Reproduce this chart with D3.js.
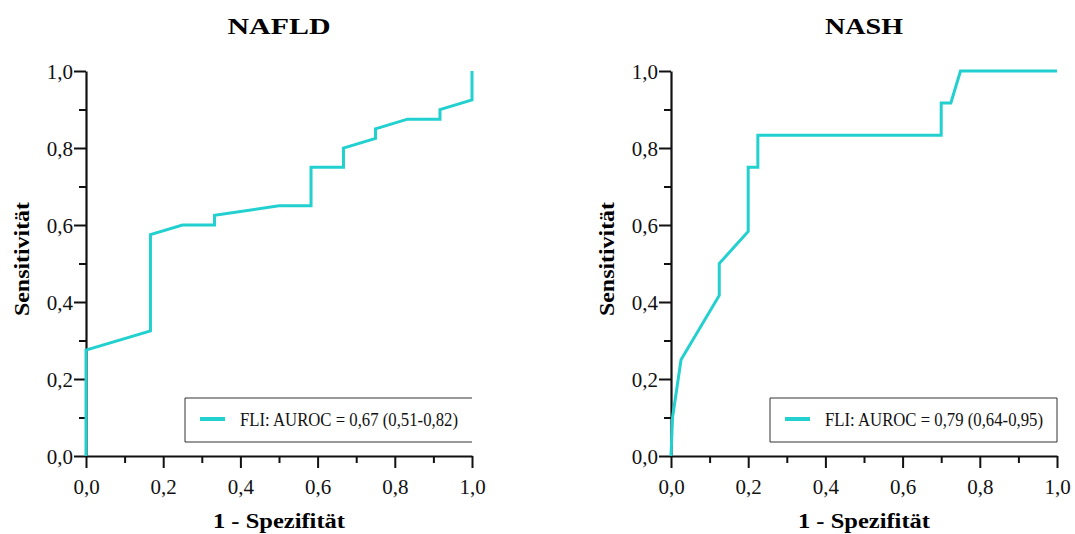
<!DOCTYPE html>
<html><head><meta charset="utf-8">
<script src="https://cdn.jsdelivr.net/npm/d3@7"></script>
<style>body{margin:0;background:#fff}svg{display:block}text{font-family:"Liberation Serif","Times New Roman",serif}</style>
</head><body><svg id="c" width="1075" height="534"></svg>
<script>
// ROC data: [1 - specificity, sensitivity]
const nafldFpr = [0, 0, 0.167, 0.167, 0.25, 0.333, 0.333, 0.5, 0.583, 0.583, 0.667, 0.667, 0.75, 0.75, 0.833, 0.917, 0.917, 1, 1];
const nafldTpr = [0, 0.275, 0.325, 0.575, 0.6, 0.6, 0.625, 0.65, 0.65, 0.75, 0.75, 0.8, 0.825, 0.85, 0.875, 0.875, 0.9, 0.925, 1];
const nashFpr = [0, 0.004, 0.026, 0.125, 0.125, 0.2, 0.2, 0.225, 0.225, 0.7, 0.7, 0.725, 0.75, 1];
const nashTpr = [0, 0.1, 0.25, 0.417, 0.5, 0.583, 0.75, 0.75, 0.833, 0.833, 0.917, 0.917, 1, 1];
const titles = ["NAFLD", "NASH"];
const legendLabels = ["FLI: AUROC = 0,67 (0,51-0,82)", "FLI: AUROC = 0,79 (0,64-0,95)"];
const majorTicks = [0, 0.2, 0.4, 0.6, 0.8, 1.0];
const minorTicks = [0.1, 0.3, 0.5, 0.7, 0.9];
const xTitle = "1 - Spezifität";
const yTitle = "Sensitivität";

const color = "#22d0cf";
const svg = d3.select("#c");
const fmt = d => d3.format(".1f")(d).replace(".", ",");

const panels = [
  {x0: 86, fpr: nafldFpr, tpr: nafldTpr, title: titles[0], leg: legendLabels[0], titleW: 103, box: {x: 185, w: 287, right: false}},
  {x0: 671, fpr: nashFpr, tpr: nashTpr, title: titles[1], leg: legendLabels[1], titleW: 78, box: {x: 770, w: 287, right: true}}
];
const W = 386, plotTop = 71, plotBottom = 456;

panels.forEach(p => {
  const x = d3.scaleLinear().domain([0, 1]).range([p.x0, p.x0 + W]);
  const y = d3.scaleLinear().domain([0, 1]).range([plotBottom, plotTop]);
  const g = svg.append("g");

  g.append("text").attr("x", p.x0 + W / 2).attr("y", 34).attr("text-anchor", "middle")
    .attr("font-size", 24).attr("font-weight", "bold")
    .attr("textLength", p.titleW).attr("lengthAdjust", "spacingAndGlyphs").text(p.title);

  g.append("g").attr("transform", `translate(0,${plotBottom})`)
    .call(d3.axisBottom(x).tickValues(minorTicks).tickSize(7).tickFormat(""))
    .call(a => a.select(".domain").remove());
  g.append("g").attr("transform", `translate(${p.x0},0)`)
    .call(d3.axisLeft(y).tickValues(minorTicks).tickSize(7).tickFormat(""))
    .call(a => a.select(".domain").remove());

  const xa = g.append("g").attr("transform", `translate(0,${plotBottom})`)
    .call(d3.axisBottom(x).tickValues(majorTicks).tickSize(12).tickSizeOuter(0).tickFormat(fmt));
  xa.selectAll("text").attr("y", 0).attr("dy", 0).attr("transform", "translate(0,38)")
    .attr("font-size", 21).attr("fill", "#111").attr("font-family", "Liberation Serif");
  const ya = g.append("g").attr("transform", `translate(${p.x0},0)`)
    .call(d3.axisLeft(y).tickValues(majorTicks).tickSize(12).tickSizeOuter(0).tickPadding(1).tickFormat(fmt));
  ya.selectAll("text").attr("dy", "0.34em").attr("font-size", 21).attr("fill", "#111").attr("font-family", "Liberation Serif");
  g.selectAll(".tick line").attr("stroke", "#111").attr("stroke-width", 2);
  g.selectAll(".domain").attr("stroke", "#111").attr("stroke-width", 2.2);

  g.append("text").attr("x", p.x0 + W / 2).attr("y", 528).attr("text-anchor", "middle")
    .attr("font-size", 22).attr("font-weight", "bold")
    .attr("textLength", 132).attr("lengthAdjust", "spacingAndGlyphs").text(xTitle);
  g.append("text").attr("transform", `translate(${p.x0 - 57},259) rotate(-90)`).attr("text-anchor", "middle")
    .attr("font-size", 22).attr("font-weight", "bold")
    .attr("textLength", 114).attr("lengthAdjust", "spacingAndGlyphs").text(yTitle);

  const bx = p.box.x, by = 398, bh = 44, bw = p.box.w;
  const lg = g.append("g");
  lg.append("line").attr("x1", bx).attr("x2", bx + bw).attr("y1", by).attr("y2", by).attr("stroke", "#333").attr("stroke-width", 1);
  lg.append("line").attr("x1", bx).attr("x2", bx + bw).attr("y1", by + bh).attr("y2", by + bh).attr("stroke", "#333").attr("stroke-width", 1);
  lg.append("line").attr("x1", bx).attr("x2", bx).attr("y1", by).attr("y2", by + bh).attr("stroke", "#333").attr("stroke-width", 1);
  if (p.box.right) lg.append("line").attr("x1", bx + bw).attr("x2", bx + bw).attr("y1", by).attr("y2", by + bh).attr("stroke", "#333").attr("stroke-width", 1);
  lg.append("line").attr("x1", bx + 15).attr("x2", bx + 40).attr("y1", by + 21).attr("y2", by + 21)
    .attr("stroke", color).attr("stroke-width", 4);
  lg.append("text").attr("x", bx + 55).attr("y", by + 28).attr("font-size", 18).attr("fill", "#111")
    .attr("textLength", 218).attr("lengthAdjust", "spacingAndGlyphs").text(p.leg);

  const pts = p.fpr.map((f, i) => [f, p.tpr[i]]);
  g.append("path").datum(pts)
    .attr("d", d3.line().x(d => x(d[0])).y(d => y(d[1])))
    .attr("fill", "none").attr("stroke", color).attr("stroke-width", 3).attr("stroke-linejoin", "miter");
});
</script></body></html>
